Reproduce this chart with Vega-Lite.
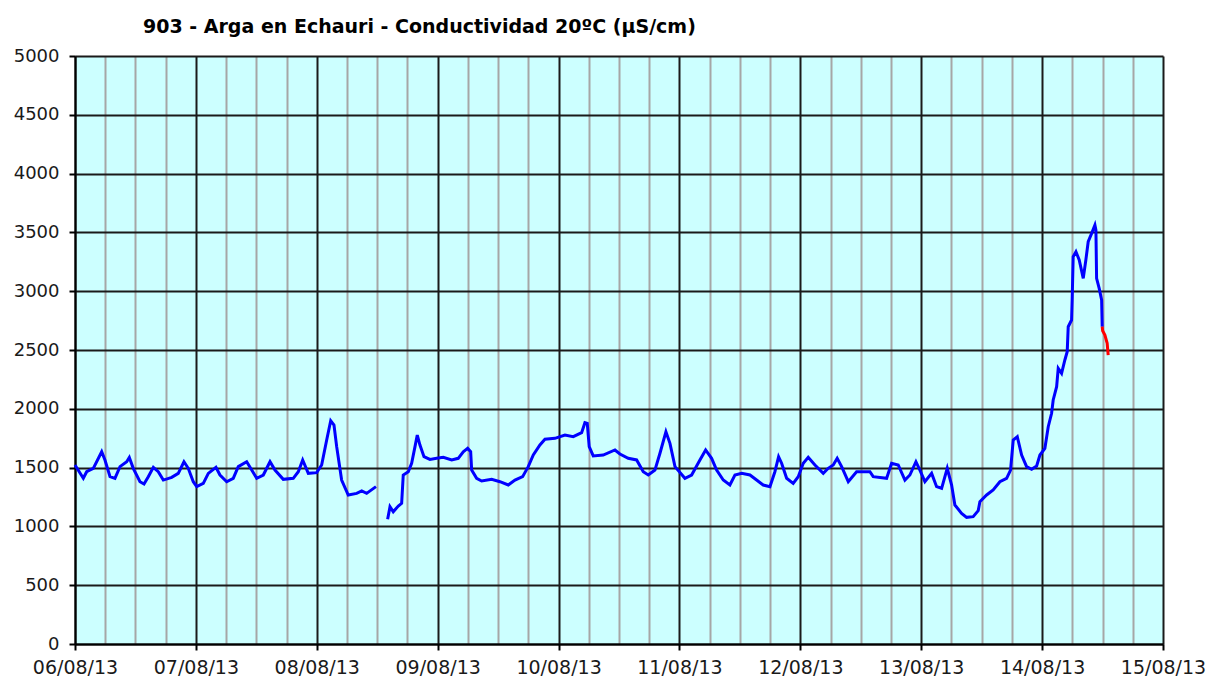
{
  "$schema": "https://vega.github.io/schema/vega-lite/v6.json",
  "width": 1088,
  "height": 588,
  "autosize": {"type": "none"},
  "padding": {"left": 75, "top": 56, "right": 46, "bottom": 33},
  "background": "white",
  "title": {
    "text": "903 - Arga en Echauri - Conductividad 20ºC (µS/cm)",
    "anchor": "start",
    "frame": "group",
    "dx": 68,
    "offset": 10,
    "font": "DejaVu Sans",
    "fontSize": 19,
    "fontWeight": "bold",
    "color": "black"
  },
  "config": {
    "view": {"fill": "#CCFFFF", "stroke": null},
    "axis": {
      "labelFont": "DejaVu Sans",
      "labelColor": "#1a1a1a",
      "domainColor": "black",
      "domainWidth": 2,
      "tickColor": "black",
      "tickWidth": 2,
      "title": null
    }
  },
  "data": {
    "values": [
      {"t": "2013-08-06T00:00:00", "v": 1522, "s": "a", "c": "blue"},
      {"t": "2013-08-06T01:39:00", "v": 1409, "s": "a", "c": "blue"},
      {"t": "2013-08-06T02:19:00", "v": 1465, "s": "a", "c": "blue"},
      {"t": "2013-08-06T03:38:00", "v": 1494, "s": "a", "c": "blue"},
      {"t": "2013-08-06T05:18:00", "v": 1635, "s": "a", "c": "blue"},
      {"t": "2013-08-06T05:57:00", "v": 1565, "s": "a", "c": "blue"},
      {"t": "2013-08-06T06:57:00", "v": 1423, "s": "a", "c": "blue"},
      {"t": "2013-08-06T07:56:00", "v": 1409, "s": "a", "c": "blue"},
      {"t": "2013-08-06T08:56:00", "v": 1508, "s": "a", "c": "blue"},
      {"t": "2013-08-06T10:16:00", "v": 1550, "s": "a", "c": "blue"},
      {"t": "2013-08-06T10:47:00", "v": 1587, "s": "a", "c": "blue"},
      {"t": "2013-08-06T11:34:00", "v": 1494, "s": "a", "c": "blue"},
      {"t": "2013-08-06T12:54:00", "v": 1380, "s": "a", "c": "blue"},
      {"t": "2013-08-06T13:42:00", "v": 1360, "s": "a", "c": "blue"},
      {"t": "2013-08-06T14:33:00", "v": 1423, "s": "a", "c": "blue"},
      {"t": "2013-08-06T15:33:00", "v": 1502, "s": "a", "c": "blue"},
      {"t": "2013-08-06T16:32:00", "v": 1465, "s": "a", "c": "blue"},
      {"t": "2013-08-06T17:32:00", "v": 1394, "s": "a", "c": "blue"},
      {"t": "2013-08-06T19:12:00", "v": 1417, "s": "a", "c": "blue"},
      {"t": "2013-08-06T20:30:00", "v": 1451, "s": "a", "c": "blue"},
      {"t": "2013-08-06T21:38:00", "v": 1550, "s": "a", "c": "blue"},
      {"t": "2013-08-06T22:29:00", "v": 1494, "s": "a", "c": "blue"},
      {"t": "2013-08-06T23:29:00", "v": 1380, "s": "a", "c": "blue"},
      {"t": "2013-08-07T00:10:00", "v": 1338, "s": "a", "c": "blue"},
      {"t": "2013-08-07T01:28:00", "v": 1366, "s": "a", "c": "blue"},
      {"t": "2013-08-07T02:28:00", "v": 1451, "s": "a", "c": "blue"},
      {"t": "2013-08-07T03:59:00", "v": 1502, "s": "a", "c": "blue"},
      {"t": "2013-08-07T04:47:00", "v": 1437, "s": "a", "c": "blue"},
      {"t": "2013-08-07T06:07:00", "v": 1380, "s": "a", "c": "blue"},
      {"t": "2013-08-07T07:25:00", "v": 1409, "s": "a", "c": "blue"},
      {"t": "2013-08-07T08:25:00", "v": 1508, "s": "a", "c": "blue"},
      {"t": "2013-08-07T10:05:00", "v": 1550, "s": "a", "c": "blue"},
      {"t": "2013-08-07T11:05:00", "v": 1479, "s": "a", "c": "blue"},
      {"t": "2013-08-07T12:04:00", "v": 1409, "s": "a", "c": "blue"},
      {"t": "2013-08-07T13:23:00", "v": 1437, "s": "a", "c": "blue"},
      {"t": "2013-08-07T14:43:00", "v": 1550, "s": "a", "c": "blue"},
      {"t": "2013-08-07T15:42:00", "v": 1479, "s": "a", "c": "blue"},
      {"t": "2013-08-07T17:21:00", "v": 1400, "s": "a", "c": "blue"},
      {"t": "2013-08-07T19:20:00", "v": 1409, "s": "a", "c": "blue"},
      {"t": "2013-08-07T20:20:00", "v": 1465, "s": "a", "c": "blue"},
      {"t": "2013-08-07T21:12:00", "v": 1565, "s": "a", "c": "blue"},
      {"t": "2013-08-07T22:19:00", "v": 1451, "s": "a", "c": "blue"},
      {"t": "2013-08-07T23:59:00", "v": 1457, "s": "a", "c": "blue"},
      {"t": "2013-08-08T00:58:00", "v": 1522, "s": "a", "c": "blue"},
      {"t": "2013-08-08T01:58:00", "v": 1735, "s": "a", "c": "blue"},
      {"t": "2013-08-08T02:46:00", "v": 1899, "s": "a", "c": "blue"},
      {"t": "2013-08-08T03:25:00", "v": 1862, "s": "a", "c": "blue"},
      {"t": "2013-08-08T03:57:00", "v": 1678, "s": "a", "c": "blue"},
      {"t": "2013-08-08T04:56:00", "v": 1394, "s": "a", "c": "blue"},
      {"t": "2013-08-08T06:15:00", "v": 1267, "s": "a", "c": "blue"},
      {"t": "2013-08-08T07:55:00", "v": 1281, "s": "a", "c": "blue"},
      {"t": "2013-08-08T08:55:00", "v": 1301, "s": "a", "c": "blue"},
      {"t": "2013-08-08T09:54:00", "v": 1281, "s": "a", "c": "blue"},
      {"t": "2013-08-08T11:45:00", "v": 1338, "s": "a", "c": "blue"},
      {"t": "2013-08-08T14:04:00", "v": 1060, "s": "b", "c": "blue"},
      {"t": "2013-08-08T14:32:00", "v": 1167, "s": "b", "c": "blue"},
      {"t": "2013-08-08T15:11:00", "v": 1125, "s": "b", "c": "blue"},
      {"t": "2013-08-08T16:11:00", "v": 1173, "s": "b", "c": "blue"},
      {"t": "2013-08-08T16:51:00", "v": 1196, "s": "b", "c": "blue"},
      {"t": "2013-08-08T17:10:00", "v": 1437, "s": "b", "c": "blue"},
      {"t": "2013-08-08T18:10:00", "v": 1465, "s": "b", "c": "blue"},
      {"t": "2013-08-08T18:50:00", "v": 1537, "s": "b", "c": "blue"},
      {"t": "2013-08-08T19:30:00", "v": 1678, "s": "b", "c": "blue"},
      {"t": "2013-08-08T19:57:00", "v": 1777, "s": "b", "c": "blue"},
      {"t": "2013-08-08T20:29:00", "v": 1692, "s": "b", "c": "blue"},
      {"t": "2013-08-08T21:17:00", "v": 1593, "s": "b", "c": "blue"},
      {"t": "2013-08-08T22:28:00", "v": 1570, "s": "b", "c": "blue"},
      {"t": "2013-08-08T23:48:00", "v": 1579, "s": "b", "c": "blue"},
      {"t": "2013-08-09T01:07:00", "v": 1587, "s": "b", "c": "blue"},
      {"t": "2013-08-09T02:47:00", "v": 1565, "s": "b", "c": "blue"},
      {"t": "2013-08-09T04:05:00", "v": 1579, "s": "b", "c": "blue"},
      {"t": "2013-08-09T05:05:00", "v": 1635, "s": "b", "c": "blue"},
      {"t": "2013-08-09T05:57:00", "v": 1664, "s": "b", "c": "blue"},
      {"t": "2013-08-09T06:33:00", "v": 1635, "s": "b", "c": "blue"},
      {"t": "2013-08-09T06:45:00", "v": 1479, "s": "b", "c": "blue"},
      {"t": "2013-08-09T07:44:00", "v": 1409, "s": "b", "c": "blue"},
      {"t": "2013-08-09T08:44:00", "v": 1386, "s": "b", "c": "blue"},
      {"t": "2013-08-09T10:43:00", "v": 1400, "s": "b", "c": "blue"},
      {"t": "2013-08-09T12:22:00", "v": 1380, "s": "b", "c": "blue"},
      {"t": "2013-08-09T14:01:00", "v": 1352, "s": "b", "c": "blue"},
      {"t": "2013-08-09T15:21:00", "v": 1394, "s": "b", "c": "blue"},
      {"t": "2013-08-09T16:52:00", "v": 1423, "s": "b", "c": "blue"},
      {"t": "2013-08-09T17:59:00", "v": 1508, "s": "b", "c": "blue"},
      {"t": "2013-08-09T18:59:00", "v": 1607, "s": "b", "c": "blue"},
      {"t": "2013-08-09T20:18:00", "v": 1692, "s": "b", "c": "blue"},
      {"t": "2013-08-09T21:18:00", "v": 1741, "s": "b", "c": "blue"},
      {"t": "2013-08-09T23:17:00", "v": 1749, "s": "b", "c": "blue"},
      {"t": "2013-08-10T01:16:00", "v": 1777, "s": "b", "c": "blue"},
      {"t": "2013-08-10T02:55:00", "v": 1763, "s": "b", "c": "blue"},
      {"t": "2013-08-10T04:35:00", "v": 1797, "s": "b", "c": "blue"},
      {"t": "2013-08-10T05:14:00", "v": 1882, "s": "b", "c": "blue"},
      {"t": "2013-08-10T05:42:00", "v": 1876, "s": "b", "c": "blue"},
      {"t": "2013-08-10T06:05:00", "v": 1678, "s": "b", "c": "blue"},
      {"t": "2013-08-10T06:53:00", "v": 1599, "s": "b", "c": "blue"},
      {"t": "2013-08-10T08:52:00", "v": 1607, "s": "b", "c": "blue"},
      {"t": "2013-08-10T11:12:00", "v": 1650, "s": "b", "c": "blue"},
      {"t": "2013-08-10T12:11:00", "v": 1616, "s": "b", "c": "blue"},
      {"t": "2013-08-10T13:50:00", "v": 1579, "s": "b", "c": "blue"},
      {"t": "2013-08-10T15:30:00", "v": 1565, "s": "b", "c": "blue"},
      {"t": "2013-08-10T16:49:00", "v": 1465, "s": "b", "c": "blue"},
      {"t": "2013-08-10T17:49:00", "v": 1437, "s": "b", "c": "blue"},
      {"t": "2013-08-10T19:08:00", "v": 1479, "s": "b", "c": "blue"},
      {"t": "2013-08-10T20:08:00", "v": 1622, "s": "b", "c": "blue"},
      {"t": "2013-08-10T21:19:00", "v": 1805, "s": "b", "c": "blue"},
      {"t": "2013-08-10T22:07:00", "v": 1706, "s": "b", "c": "blue"},
      {"t": "2013-08-10T23:07:00", "v": 1508, "s": "b", "c": "blue"},
      {"t": "2013-08-11T01:05:00", "v": 1409, "s": "b", "c": "blue"},
      {"t": "2013-08-11T02:25:00", "v": 1437, "s": "b", "c": "blue"},
      {"t": "2013-08-11T04:04:00", "v": 1565, "s": "b", "c": "blue"},
      {"t": "2013-08-11T05:12:00", "v": 1650, "s": "b", "c": "blue"},
      {"t": "2013-08-11T06:23:00", "v": 1579, "s": "b", "c": "blue"},
      {"t": "2013-08-11T07:23:00", "v": 1479, "s": "b", "c": "blue"},
      {"t": "2013-08-11T08:42:00", "v": 1394, "s": "b", "c": "blue"},
      {"t": "2013-08-11T10:01:00", "v": 1352, "s": "b", "c": "blue"},
      {"t": "2013-08-11T11:01:00", "v": 1437, "s": "b", "c": "blue"},
      {"t": "2013-08-11T12:21:00", "v": 1451, "s": "b", "c": "blue"},
      {"t": "2013-08-11T14:00:00", "v": 1437, "s": "b", "c": "blue"},
      {"t": "2013-08-11T15:19:00", "v": 1394, "s": "b", "c": "blue"},
      {"t": "2013-08-11T16:38:00", "v": 1352, "s": "b", "c": "blue"},
      {"t": "2013-08-11T17:58:00", "v": 1338, "s": "b", "c": "blue"},
      {"t": "2013-08-11T18:57:00", "v": 1465, "s": "b", "c": "blue"},
      {"t": "2013-08-11T19:41:00", "v": 1593, "s": "b", "c": "blue"},
      {"t": "2013-08-11T20:17:00", "v": 1537, "s": "b", "c": "blue"},
      {"t": "2013-08-11T21:17:00", "v": 1409, "s": "b", "c": "blue"},
      {"t": "2013-08-11T22:35:00", "v": 1366, "s": "b", "c": "blue"},
      {"t": "2013-08-11T23:35:00", "v": 1423, "s": "b", "c": "blue"},
      {"t": "2013-08-12T00:35:00", "v": 1537, "s": "b", "c": "blue"},
      {"t": "2013-08-12T01:34:00", "v": 1587, "s": "b", "c": "blue"},
      {"t": "2013-08-12T02:54:00", "v": 1522, "s": "b", "c": "blue"},
      {"t": "2013-08-12T04:33:00", "v": 1451, "s": "b", "c": "blue"},
      {"t": "2013-08-12T05:32:00", "v": 1494, "s": "b", "c": "blue"},
      {"t": "2013-08-12T06:32:00", "v": 1522, "s": "b", "c": "blue"},
      {"t": "2013-08-12T07:19:00", "v": 1579, "s": "b", "c": "blue"},
      {"t": "2013-08-12T08:12:00", "v": 1508, "s": "b", "c": "blue"},
      {"t": "2013-08-12T09:31:00", "v": 1380, "s": "b", "c": "blue"},
      {"t": "2013-08-12T11:10:00", "v": 1465, "s": "b", "c": "blue"},
      {"t": "2013-08-12T13:49:00", "v": 1465, "s": "b", "c": "blue"},
      {"t": "2013-08-12T14:28:00", "v": 1423, "s": "b", "c": "blue"},
      {"t": "2013-08-12T17:08:00", "v": 1409, "s": "b", "c": "blue"},
      {"t": "2013-08-12T18:07:00", "v": 1537, "s": "b", "c": "blue"},
      {"t": "2013-08-12T19:26:00", "v": 1522, "s": "b", "c": "blue"},
      {"t": "2013-08-12T20:46:00", "v": 1394, "s": "b", "c": "blue"},
      {"t": "2013-08-12T21:45:00", "v": 1437, "s": "b", "c": "blue"},
      {"t": "2013-08-12T22:57:00", "v": 1550, "s": "b", "c": "blue"},
      {"t": "2013-08-12T23:44:00", "v": 1479, "s": "b", "c": "blue"},
      {"t": "2013-08-13T00:44:00", "v": 1380, "s": "b", "c": "blue"},
      {"t": "2013-08-13T02:04:00", "v": 1451, "s": "b", "c": "blue"},
      {"t": "2013-08-13T03:03:00", "v": 1338, "s": "b", "c": "blue"},
      {"t": "2013-08-13T04:03:00", "v": 1324, "s": "b", "c": "blue"},
      {"t": "2013-08-13T05:10:00", "v": 1494, "s": "b", "c": "blue"},
      {"t": "2013-08-13T06:02:00", "v": 1352, "s": "b", "c": "blue"},
      {"t": "2013-08-13T06:41:00", "v": 1182, "s": "b", "c": "blue"},
      {"t": "2013-08-13T08:01:00", "v": 1111, "s": "b", "c": "blue"},
      {"t": "2013-08-13T09:01:00", "v": 1077, "s": "b", "c": "blue"},
      {"t": "2013-08-13T10:19:00", "v": 1083, "s": "b", "c": "blue"},
      {"t": "2013-08-13T11:19:00", "v": 1134, "s": "b", "c": "blue"},
      {"t": "2013-08-13T11:39:00", "v": 1210, "s": "b", "c": "blue"},
      {"t": "2013-08-13T12:59:00", "v": 1267, "s": "b", "c": "blue"},
      {"t": "2013-08-13T14:17:00", "v": 1310, "s": "b", "c": "blue"},
      {"t": "2013-08-13T15:37:00", "v": 1380, "s": "b", "c": "blue"},
      {"t": "2013-08-13T16:57:00", "v": 1409, "s": "b", "c": "blue"},
      {"t": "2013-08-13T17:44:00", "v": 1479, "s": "b", "c": "blue"},
      {"t": "2013-08-13T18:16:00", "v": 1735, "s": "b", "c": "blue"},
      {"t": "2013-08-13T19:04:00", "v": 1763, "s": "b", "c": "blue"},
      {"t": "2013-08-13T19:56:00", "v": 1607, "s": "b", "c": "blue"},
      {"t": "2013-08-13T20:55:00", "v": 1508, "s": "b", "c": "blue"},
      {"t": "2013-08-13T21:55:00", "v": 1486, "s": "b", "c": "blue"},
      {"t": "2013-08-13T22:55:00", "v": 1514, "s": "b", "c": "blue"},
      {"t": "2013-08-13T23:34:00", "v": 1607, "s": "b", "c": "blue"},
      {"t": "2013-08-14T00:33:00", "v": 1664, "s": "b", "c": "blue"},
      {"t": "2013-08-14T01:13:00", "v": 1848, "s": "b", "c": "blue"},
      {"t": "2013-08-14T01:53:00", "v": 1962, "s": "b", "c": "blue"},
      {"t": "2013-08-14T02:12:00", "v": 2075, "s": "b", "c": "blue"},
      {"t": "2013-08-14T02:53:00", "v": 2188, "s": "b", "c": "blue"},
      {"t": "2013-08-14T03:12:00", "v": 2344, "s": "b", "c": "blue"},
      {"t": "2013-08-14T03:52:00", "v": 2302, "s": "b", "c": "blue"},
      {"t": "2013-08-14T04:31:00", "v": 2415, "s": "b", "c": "blue"},
      {"t": "2013-08-14T04:59:00", "v": 2486, "s": "b", "c": "blue"},
      {"t": "2013-08-14T05:11:00", "v": 2698, "s": "b", "c": "blue"},
      {"t": "2013-08-14T05:51:00", "v": 2755, "s": "b", "c": "blue"},
      {"t": "2013-08-14T05:58:00", "v": 2925, "s": "b", "c": "blue"},
      {"t": "2013-08-14T06:10:00", "v": 3293, "s": "b", "c": "blue"},
      {"t": "2013-08-14T06:43:00", "v": 3336, "s": "b", "c": "blue"},
      {"t": "2013-08-14T07:22:00", "v": 3265, "s": "b", "c": "blue"},
      {"t": "2013-08-14T08:10:00", "v": 3109, "s": "b", "c": "blue"},
      {"t": "2013-08-14T08:41:00", "v": 3265, "s": "b", "c": "blue"},
      {"t": "2013-08-14T09:09:00", "v": 3421, "s": "b", "c": "blue"},
      {"t": "2013-08-14T09:50:00", "v": 3492, "s": "b", "c": "blue"},
      {"t": "2013-08-14T10:29:00", "v": 3563, "s": "b", "c": "blue"},
      {"t": "2013-08-14T10:41:00", "v": 3520, "s": "b", "c": "blue"},
      {"t": "2013-08-14T10:49:00", "v": 3109, "s": "b", "c": "blue"},
      {"t": "2013-08-14T11:20:00", "v": 3024, "s": "b", "c": "blue"},
      {"t": "2013-08-14T11:49:00", "v": 2925, "s": "b", "c": "blue"},
      {"t": "2013-08-14T11:56:00", "v": 2698, "s": "b", "c": "blue"},
      {"t": "2013-08-14T11:56:00", "v": 2698, "s": "c", "c": "red"},
      {"t": "2013-08-14T12:01:00", "v": 2664, "s": "c", "c": "red"},
      {"t": "2013-08-14T12:28:00", "v": 2627, "s": "c", "c": "red"},
      {"t": "2013-08-14T12:55:00", "v": 2557, "s": "c", "c": "red"},
      {"t": "2013-08-14T13:07:00", "v": 2457, "s": "c", "c": "red"}
    ]
  },
  "mark": {"type": "line", "strokeWidth": 3, "interpolate": "linear"},
  "encoding": {
    "x": {
      "field": "t",
      "type": "temporal",
      "scale": {
        "domain": [
          {"year": 2013, "month": 8, "date": 6},
          {"year": 2013, "month": 8, "date": 15}
        ],
        "nice": false
      },
      "axis": {
        "values": [
          {"year": 2013, "month": 8, "date": 6, "hours": 0},
          {"year": 2013, "month": 8, "date": 6, "hours": 6},
          {"year": 2013, "month": 8, "date": 6, "hours": 12},
          {"year": 2013, "month": 8, "date": 6, "hours": 18},
          {"year": 2013, "month": 8, "date": 7, "hours": 0},
          {"year": 2013, "month": 8, "date": 7, "hours": 6},
          {"year": 2013, "month": 8, "date": 7, "hours": 12},
          {"year": 2013, "month": 8, "date": 7, "hours": 18},
          {"year": 2013, "month": 8, "date": 8, "hours": 0},
          {"year": 2013, "month": 8, "date": 8, "hours": 6},
          {"year": 2013, "month": 8, "date": 8, "hours": 12},
          {"year": 2013, "month": 8, "date": 8, "hours": 18},
          {"year": 2013, "month": 8, "date": 9, "hours": 0},
          {"year": 2013, "month": 8, "date": 9, "hours": 6},
          {"year": 2013, "month": 8, "date": 9, "hours": 12},
          {"year": 2013, "month": 8, "date": 9, "hours": 18},
          {"year": 2013, "month": 8, "date": 10, "hours": 0},
          {"year": 2013, "month": 8, "date": 10, "hours": 6},
          {"year": 2013, "month": 8, "date": 10, "hours": 12},
          {"year": 2013, "month": 8, "date": 10, "hours": 18},
          {"year": 2013, "month": 8, "date": 11, "hours": 0},
          {"year": 2013, "month": 8, "date": 11, "hours": 6},
          {"year": 2013, "month": 8, "date": 11, "hours": 12},
          {"year": 2013, "month": 8, "date": 11, "hours": 18},
          {"year": 2013, "month": 8, "date": 12, "hours": 0},
          {"year": 2013, "month": 8, "date": 12, "hours": 6},
          {"year": 2013, "month": 8, "date": 12, "hours": 12},
          {"year": 2013, "month": 8, "date": 12, "hours": 18},
          {"year": 2013, "month": 8, "date": 13, "hours": 0},
          {"year": 2013, "month": 8, "date": 13, "hours": 6},
          {"year": 2013, "month": 8, "date": 13, "hours": 12},
          {"year": 2013, "month": 8, "date": 13, "hours": 18},
          {"year": 2013, "month": 8, "date": 14, "hours": 0},
          {"year": 2013, "month": 8, "date": 14, "hours": 6},
          {"year": 2013, "month": 8, "date": 14, "hours": 12},
          {"year": 2013, "month": 8, "date": 14, "hours": 18},
          {"year": 2013, "month": 8, "date": 15, "hours": 0}
        ],
        "labelExpr": "hours(datum.value) == 0 ? timeFormat(datum.value, '%d/%m/%y') : ''",
        "labelFontSize": 19,
        "labelPadding": 8,
        "labelFlush": false,
        "labelOverlap": false,
        "tickSize": 6,
        "tickOpacity": {"condition": {"test": "hours(datum.value) == 0", "value": 1}, "value": 0},
        "grid": true,
        "gridColor": {"condition": {"test": "hours(datum.value) == 0", "value": "#1a1a1a"}, "value": "#a6a6a6"},
        "gridWidth": 2,
        "gridOpacity": 1,
        "zindex": 0
      }
    },
    "y": {
      "field": "v",
      "type": "quantitative",
      "scale": {"domain": [0, 5000], "nice": false, "zero": true},
      "axis": {
        "values": [0, 500, 1000, 1500, 2000, 2500, 3000, 3500, 4000, 4500, 5000],
        "format": "d",
        "labelFontSize": 18,
        "labelPadding": 10,
        "labelFlush": false,
        "labelOverlap": false,
        "tickSize": 6,
        "grid": true,
        "gridColor": "#1a1a1a",
        "gridWidth": 2,
        "gridOpacity": 1,
        "zindex": 0
      }
    },
    "detail": {"field": "s"},
    "color": {
      "field": "c",
      "type": "nominal",
      "scale": {"domain": ["blue", "red"], "range": ["#0000FF", "#FF0000"]},
      "legend": null
    }
  }
}
